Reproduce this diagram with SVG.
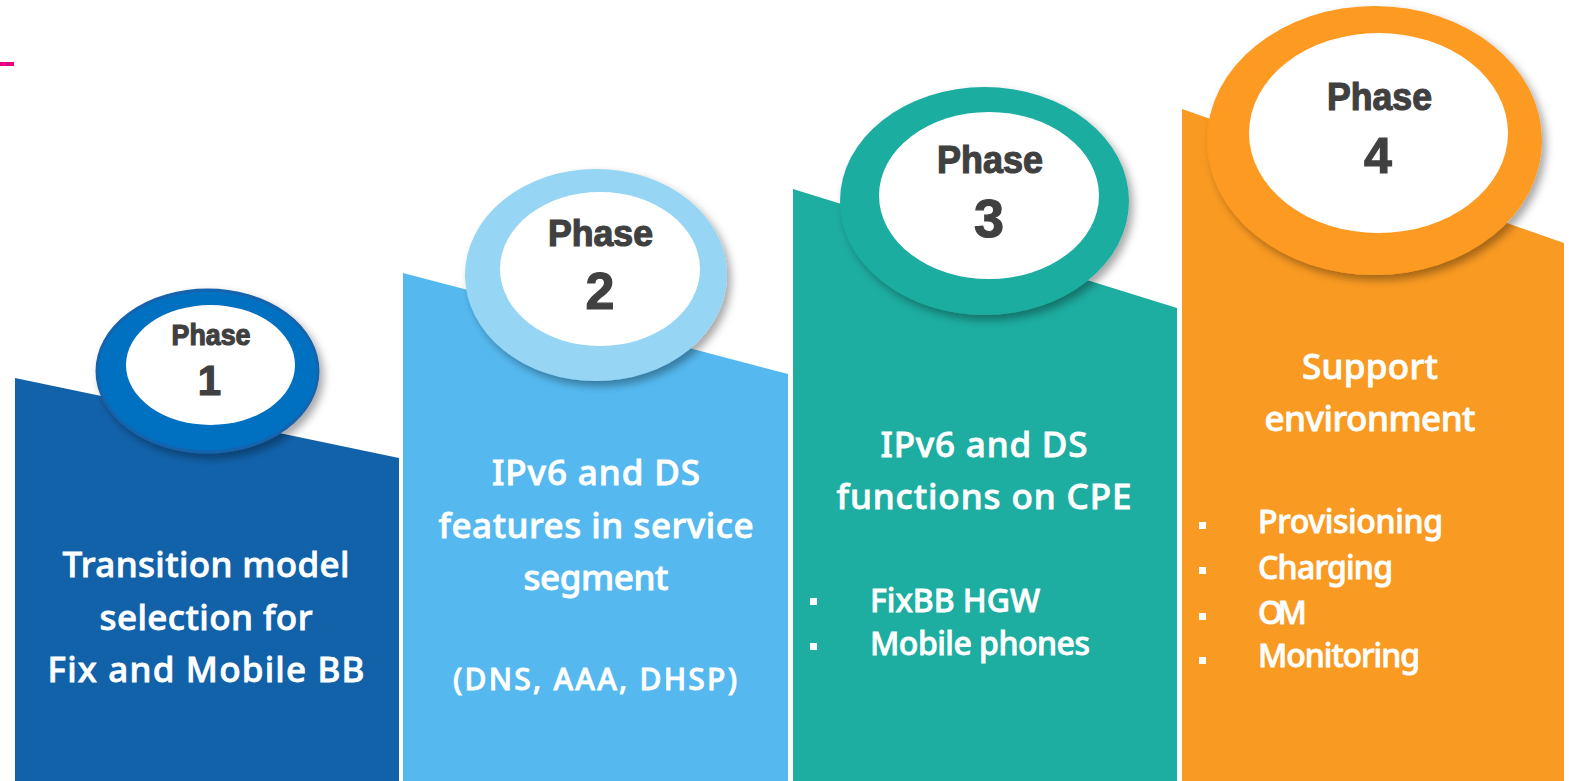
<svg xmlns="http://www.w3.org/2000/svg" width="1572" height="781" viewBox="0 0 1572 781">
<defs>
<filter id="sh" x="-20%" y="-20%" width="150%" height="150%">
<feDropShadow dx="4" dy="5" stdDeviation="4" flood-color="#000" flood-opacity="0.35"/>
</filter>
<style>
.t{font-family:"Noto Sans","Liberation Sans",sans-serif;font-weight:500;fill:#fff;stroke:#fff;stroke-width:0.8;text-anchor:middle}
.b{font-family:"Noto Sans","Liberation Sans",sans-serif;font-weight:500;fill:#fff;stroke:#fff;stroke-width:0.8}
.ph{font-family:"Liberation Sans",Arial,sans-serif;font-weight:bold;fill:#404040;stroke:#404040;stroke-width:1.2;text-anchor:middle}
.sq{fill:#fff}
</style>
</defs>
<rect width="1572" height="781" fill="#fff"/>
<rect x="0" y="62" width="14" height="4" fill="#E6007E"/>

<g id="phase1">
<polygon points="15,378 399,458 399,781 15,781" fill="#1262AA"/>
<ellipse cx="207.5" cy="371" rx="110.5" ry="81" fill="#0070C0" stroke="#1763AD" stroke-width="3" filter="url(#sh)"/>
<ellipse cx="210.5" cy="365" rx="84.5" ry="60" fill="#fff"/>
<text class="ph" x="211" y="345" font-size="30" textLength="79" lengthAdjust="spacingAndGlyphs">Phase</text>
<text class="ph" x="209.5" y="395" font-size="42">1</text>
<text class="t" x="206" y="577" font-size="35" textLength="287" lengthAdjust="spacing">Transition model</text>
<text class="t" x="206" y="630" font-size="35" textLength="213" lengthAdjust="spacing">selection for</text>
<text class="t" x="206" y="682" font-size="35" textLength="317" lengthAdjust="spacing">Fix and Mobile BB</text>
</g>

<g id="phase2">
<polygon points="403,273 788,374 788,781 403,781" fill="#55B9F0"/>
<ellipse cx="596" cy="275" rx="131" ry="106" fill="#97D5F5" filter="url(#sh)"/>
<ellipse cx="600" cy="269" rx="100" ry="77" fill="#fff"/>
<text class="ph" x="600.5" y="246" font-size="36" textLength="105" lengthAdjust="spacingAndGlyphs">Phase</text>
<text class="ph" x="600" y="309" font-size="52">2</text>
<text class="t" x="596" y="485" font-size="35" textLength="208" lengthAdjust="spacing">IPv6 and DS</text>
<text class="t" x="596" y="538" font-size="35" textLength="315" lengthAdjust="spacing">features in service</text>
<text class="t" x="596" y="590" font-size="35" textLength="145" lengthAdjust="spacing">segment</text>
<text class="t" x="595" y="690" font-size="30" textLength="284" lengthAdjust="spacing">(DNS, AAA, DHSP)</text>
</g>

<g id="phase3">
<polygon points="793,189 1177,308 1177,781 793,781" fill="#1DADA1"/>
<ellipse cx="984.5" cy="201" rx="144.5" ry="114" fill="#1DADA1" filter="url(#sh)"/>
<ellipse cx="989" cy="195.5" rx="110" ry="83.5" fill="#fff"/>
<text class="ph" x="990" y="173" font-size="38" textLength="106" lengthAdjust="spacingAndGlyphs">Phase</text>
<text class="ph" x="989" y="237" font-size="54">3</text>
<text class="t" x="984" y="457" font-size="35" textLength="207" lengthAdjust="spacing">IPv6 and DS</text>
<text class="t" x="984" y="509" font-size="35" textLength="295" lengthAdjust="spacing">functions on CPE</text>
<rect class="sq" x="810" y="598" width="7" height="7"/>
<rect class="sq" x="810" y="643" width="7" height="7"/>
<text class="b" x="870" y="612" font-size="32" textLength="170" lengthAdjust="spacing">FixBB HGW</text>
<text class="b" x="870" y="655" font-size="32" textLength="220" lengthAdjust="spacing">Mobile phones</text>
</g>

<g id="phase4">
<polygon points="1182,109 1564,243 1564,781 1182,781" fill="#F99A22"/>
<ellipse cx="1374.5" cy="140.5" rx="167.5" ry="134.5" fill="#FD9A22" filter="url(#sh)"/>
<ellipse cx="1378.5" cy="133" rx="129.5" ry="100" fill="#fff"/>
<text class="ph" x="1379.5" y="110" font-size="38" textLength="105" lengthAdjust="spacingAndGlyphs">Phase</text>
<text class="ph" x="1378" y="173" font-size="50">4</text>
<text class="t" x="1370" y="379" font-size="35" textLength="136" lengthAdjust="spacing">Support</text>
<text class="t" x="1370" y="431" font-size="35" textLength="211" lengthAdjust="spacing">environment</text>
<rect class="sq" x="1199" y="522" width="7" height="7"/>
<rect class="sq" x="1199" y="567" width="7" height="7"/>
<rect class="sq" x="1199" y="613" width="7" height="7"/>
<rect class="sq" x="1199" y="657" width="7" height="7"/>
<text class="b" x="1258" y="533" font-size="32" textLength="185" lengthAdjust="spacing">Provisioning</text>
<text class="b" x="1258" y="579" font-size="32" textLength="135" lengthAdjust="spacing">Charging</text>
<text class="b" x="1258" y="624" font-size="32" textLength="49" lengthAdjust="spacing">OM</text>
<text class="b" x="1258" y="667" font-size="32" textLength="162" lengthAdjust="spacing">Monitoring</text>
</g>

<g id="connectors"></g>
</svg>
